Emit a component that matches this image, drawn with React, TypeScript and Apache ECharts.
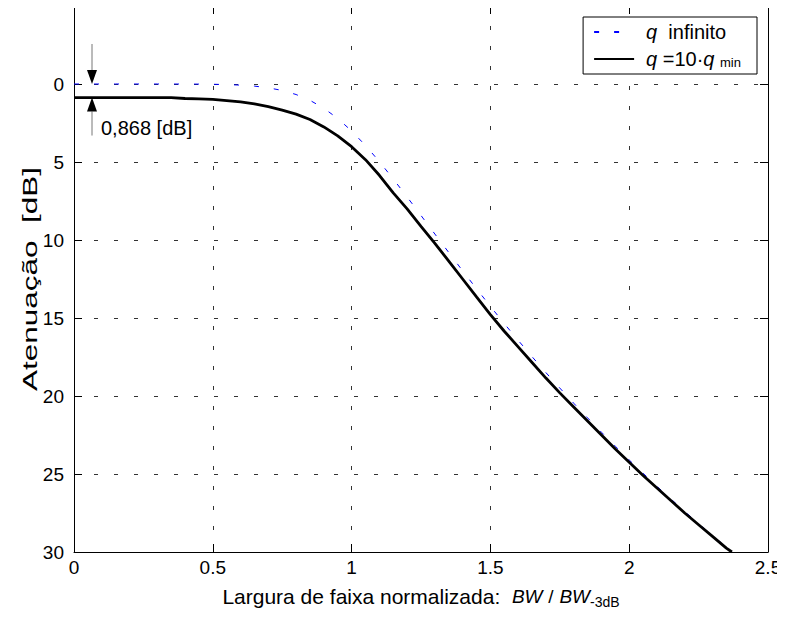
import React, { useEffect, useRef } from "react";
import * as echarts from "echarts";

const xValues = [
  0, 0.05, 0.1, 0.15, 0.2, 0.25, 0.3, 0.35, 0.4, 0.45, 0.5, 0.55, 0.6, 0.65, 0.7, 0.75,
  0.8, 0.85, 0.9, 0.95, 1.0, 1.05, 1.1, 1.15, 1.2, 1.25, 1.3, 1.35, 1.4, 1.45, 1.5,
  1.55, 1.6, 1.65, 1.7, 1.75, 1.8, 1.85, 1.9, 1.95, 2.0, 2.05, 2.1, 2.15, 2.2, 2.25,
  2.3, 2.35, 2.37,
];

const qInfinito = [
  0, 0, 0, 0, 0, 0, 0, 0.001, 0.003, 0.007, 0.017, 0.036, 0.072, 0.136, 0.243, 0.414,
  0.674, 1.046, 1.555, 2.209, 3.01, 3.94, 4.974, 6.084, 7.243, 8.426, 9.618, 10.8,
  11.975, 13.126, 14.254, 15.36, 16.43, 17.478, 18.5, 19.49, 20.46, 21.4, 22.32, 23.22,
  24.1, 24.95, 25.79, 26.6, 27.4, 28.18, 28.94, 29.69, 29.99,
];

const q10qmin = [
  0.868, 0.868, 0.868, 0.868, 0.868, 0.868, 0.868, 0.87, 0.93, 0.95, 0.98, 1.06, 1.15,
  1.28, 1.45, 1.67, 1.93, 2.28, 2.75, 3.33, 4.02, 4.85, 5.85, 6.98, 8.0, 9.12, 10.22,
  11.35, 12.5, 13.65, 14.78, 15.85, 16.85, 17.85, 18.85, 19.8, 20.7, 21.6, 22.5, 23.4,
  24.25, 25.1, 25.9, 26.7, 27.5, 28.25, 29.0, 29.75, 30.0,
];

const seriesNames = ["q infinito", "q =10·q min"];
const legendLabels: Record<string, string> = {
  "q infinito": "{i|q}  infinito",
  "q =10·q min": "{i|q} =10·{i|q} {s|min}",
};
const yTitle = "Atenuação  [dB]";
const xTitle = "Largura de faixa normalizada:  {i|BW} {n|/} {i|BW}{sub|-3dB}";
const annotationText = "0,868 [dB]";
const annotationValue = 0.868;
const annotationX = 0.065;

const FONT = "'Liberation Sans', Arial, Helvetica, sans-serif";

export default function App() {
  const ref = useRef<HTMLDivElement>(null);

  useEffect(() => {
    if (!ref.current) return;
    const chart = echarts.init(ref.current, undefined, { renderer: "svg" });
    const gridLine = { show: true, lineStyle: { color: "#333", width: 1, type: [4, 16] as any } };
    const boxAxis = {
      axisLine: { show: true, onZero: false, lineStyle: { color: "#000", width: 1 } },
      axisTick: { show: true, inside: true, length: 8, lineStyle: { color: "#000" } },
    };
    const option: any = {
      animation: false,
      backgroundColor: "#fff",
      textStyle: { fontFamily: FONT },
      grid: { left: 74, right: 17, top: 6, bottom: 71, containLabel: false },
      legend: {
        data: seriesNames,
        orient: "vertical",
        right: 28,
        top: 17,
        padding: [5, 16, 5, 10],
        itemGap: 7,
        itemWidth: 40,
        itemHeight: 22,
        borderColor: "#000",
        borderWidth: 1,
        backgroundColor: "#fff",
        itemStyle: { opacity: 0 },
        formatter: (name: string) => legendLabels[name] || name,
        textStyle: {
          fontFamily: FONT,
          fontSize: 20,
          color: "#000",
          padding: [0, 0, 0, 7],
          rich: {
            i: { fontStyle: "italic", fontSize: 20, fontFamily: FONT, color: "#000" },
            s: { fontSize: 13, fontFamily: FONT, color: "#000", padding: [7, 0, 0, 0] },
          },
        },
      },
      xAxis: [
        {
          type: "value",
          min: 0,
          max: 2.5,
          interval: 0.5,
          position: "bottom",
          ...boxAxis,
          axisLabel: { color: "#000", fontSize: 19, fontFamily: FONT, margin: 6 },
          splitLine: gridLine,
          name: xTitle,
          nameLocation: "middle",
          nameGap: 31,
          nameTextStyle: {
            color: "#000",
            fontSize: 21,
            fontFamily: FONT,
            rich: {
              n: { fontSize: 19, fontFamily: FONT, color: "#000" },
              i: { fontStyle: "italic", fontSize: 19, fontFamily: FONT, color: "#000" },
              sub: { fontSize: 14, fontFamily: FONT, color: "#000", padding: [12, 0, 0, 0] },
            },
          },
        },
        {
          type: "value",
          min: 0,
          max: 2.5,
          interval: 0.5,
          position: "top",
          ...boxAxis,
          axisLabel: { show: false },
          splitLine: { show: false },
        },
      ],
      yAxis: [
        {
          type: "value",
          min: -5,
          max: 30,
          interval: 5,
          inverse: true,
          position: "left",
          ...boxAxis,
          axisLabel: {
            color: "#000",
            fontSize: 19,
            fontFamily: FONT,
            margin: 10,
            formatter: (v: number) => (v < 0 ? "" : String(v)),
          },
          splitLine: gridLine,
        },
        {
          type: "value",
          min: -5,
          max: 30,
          interval: 5,
          inverse: true,
          position: "right",
          ...boxAxis,
          axisLabel: { show: false },
          splitLine: { show: false },
        },
      ],
      series: [
        {
          name: seriesNames[0],
          type: "line",
          showSymbol: false,
          symbol: "none",
          color: "#0000ff",
          lineStyle: { color: "#0000ff", width: 1, type: [5, 15] },
          data: xValues.map((x, i) => [x, qInfinito[i]]),
          z: 3,
        },
        {
          name: seriesNames[1],
          type: "line",
          showSymbol: false,
          symbol: "none",
          color: "#000",
          lineStyle: { color: "#000", width: 2.8 },
          data: xValues.map((x, i) => [x, q10qmin[i]]),
          z: 4,
        },
      ],
    };
    chart.setOption(option);

    const p0 = chart.convertToPixel({ xAxisIndex: 0, yAxisIndex: 0 }, [annotationX, 0]) as number[];
    const p1 = chart.convertToPixel({ xAxisIndex: 0, yAxisIndex: 0 }, [annotationX, annotationValue]) as number[];
    const pm = chart.convertToPixel({ xAxisIndex: 0, yAxisIndex: 0 }, [0, 12.5]) as number[];
    const ax = Math.round(p0[0]);
    const headH = 14;
    const headW = 5;
    chart.setOption({
      graphic: [
        { type: "line", shape: { x1: ax, y1: p0[1] - 40, x2: ax, y2: p0[1] - headH }, style: { stroke: "#777", lineWidth: 1 }, z: 10 },
        { type: "polygon", shape: { points: [[ax - headW, p0[1] - headH], [ax + headW, p0[1] - headH], [ax, p0[1]]] }, style: { fill: "#000" }, z: 10 },
        { type: "line", shape: { x1: ax, y1: p1[1] + headH, x2: ax, y2: p1[1] + 38 }, style: { stroke: "#777", lineWidth: 1 }, z: 10 },
        { type: "polygon", shape: { points: [[ax - headW, p1[1] + headH], [ax + headW, p1[1] + headH], [ax, p1[1]]] }, style: { fill: "#000" }, z: 10 },
        {
          type: "text",
          x: ax + 9,
          y: p1[1] + 30,
          style: { text: annotationText, fill: "#000", font: `20px ${FONT}`, verticalAlign: "middle", textAlign: "left" },
          z: 10,
        },
        {
          type: "text",
          x: 30,
          y: pm[1],
          rotation: Math.PI / 2,
          scaleX: 1.5,
          style: { text: yTitle, fill: "#000", font: `21px ${FONT}`, verticalAlign: "middle", textAlign: "center" },
          z: 10,
        },
      ],
    });

    return () => chart.dispose();
  }, []);

  return <div ref={ref} style={{ width: 785, height: 623, margin: -8 }} />;
}
